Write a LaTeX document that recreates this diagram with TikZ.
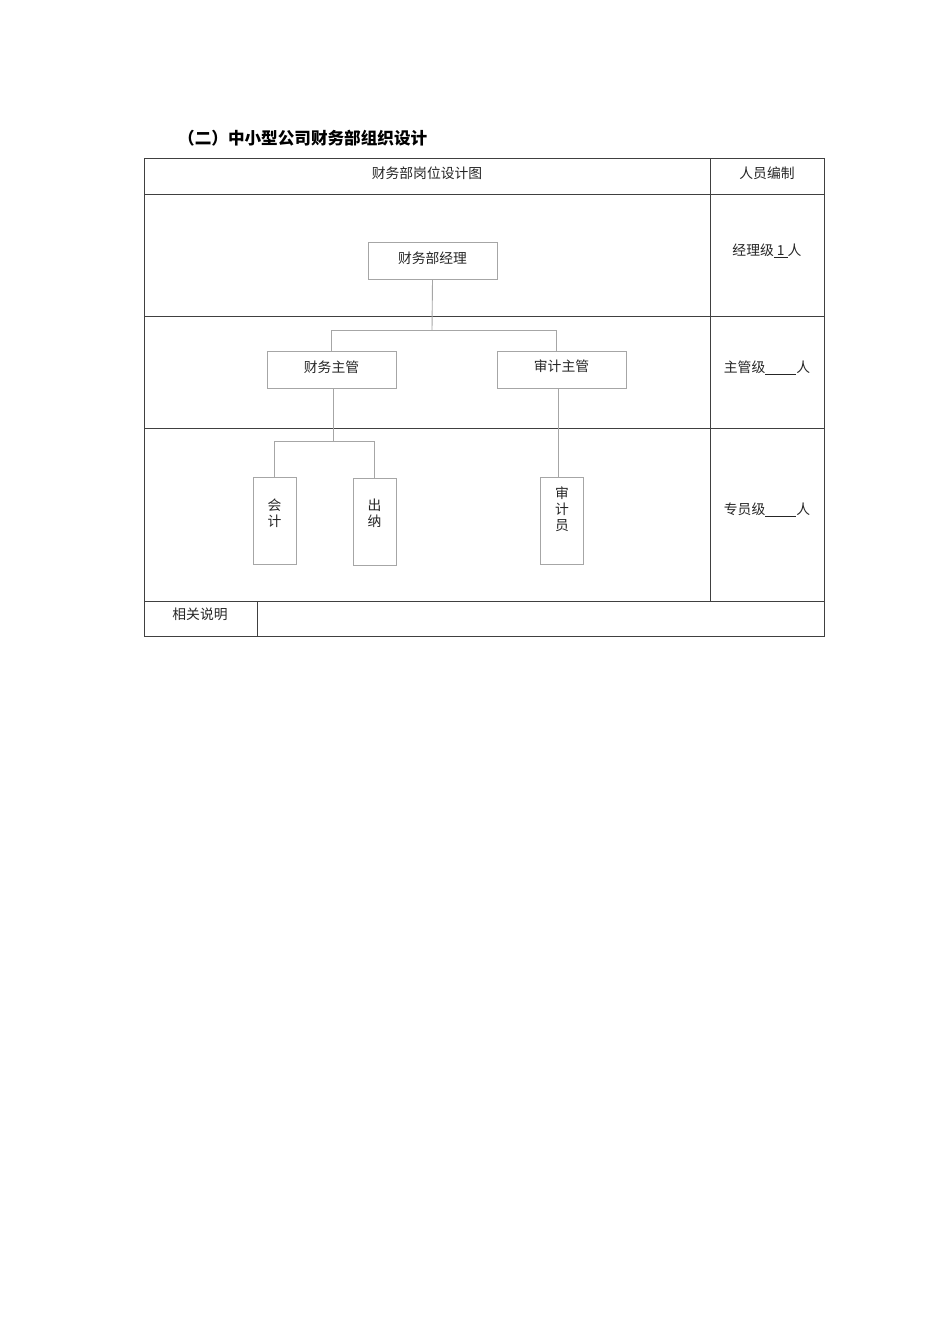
\documentclass[tikz,border=0pt]{standalone}
\usepackage{fontspec}
\setmainfont{Noto Sans CJK SC}
\begin{document}
\begin{tikzpicture}[x=1pt,y=-1pt,
  tbl/.style={draw=black!75,line width=1pt},
  orgbox/.style={draw=black!35,line width=0.9pt,minimum width=129pt,minimum height=37pt,inner sep=0pt},
  vbox/.style={draw=black!35,line width=0.9pt,minimum width=43pt,minimum height=87pt,inner sep=0pt},
  conn/.style={draw=black!35,line width=0.9pt},
  txt/.style={font=\fontsize{13.8}{16}\selectfont,text=black!85,inner sep=0pt,align=center},
  ]
\fill[white] (0,0) rectangle (950,1344);
\useasboundingbox (0,0) rectangle (950,1344);
% title
\node[anchor=west,inner sep=0pt,font=\fontsize{16.6}{19}\selectfont\bfseries] (title) at (178,138) {（二）中小型公司财务部组织设计};
% table
\draw[tbl] (144,158) rectangle (824,636);
\draw[tbl] (144,194) -- (824,194);
\draw[tbl] (144,316) -- (824,316);
\draw[tbl] (144,428) -- (824,428);
\draw[tbl] (144,601) -- (824,601);
\draw[tbl] (710,158) -- (710,601);
\draw[tbl] (257,601) -- (257,636);
% header texts
\node[txt] (h1) at (427,173) {财务部岗位设计图};
\node[txt] (h2) at (767,173) {人员编制};
\node[txt] (r1) at (767,251) {经理级\underline{ 1 }人};
\node[txt] (r2) at (767,368) {主管级\underline{\hspace{31pt}}人};
\node[txt] (r3) at (767,510) {专员级\underline{\hspace{31pt}}人};
\node[txt] (note) at (200,614) {相关说明};
% org chart
\node[orgbox] (mgr) at (432.5,261) {};
\node[txt] at (432.5,258) {财务部经理};
\node[orgbox] (fz) at (331.5,369.5) {};
\node[txt] at (331.5,367) {财务主管};
\node[orgbox] (sz) at (561.5,369.5) {};
\node[txt] at (561.5,366) {审计主管};
\node[vbox] (kj) at (274.5,521) {};
\node[txt] at (274.5,513) {会\\计};
\node[vbox] (cn) at (374.5,521.5) {};
\node[txt] at (374.5,513) {出\\纳};
\node[vbox] (sjy) at (561.5,521) {};
\node[txt] at (562,509) {审\\计\\员};
\coordinate (j1) at (432,330);
\coordinate (j2) at (333,441);
\draw[conn] (mgr.south) -- (j1);
\draw[conn] ([xshift=-0.5pt]fz.north) -- ([xshift=-0.5pt]fz.north |- j1) -- ([xshift=-5pt]sz.north |- j1) -- ([xshift=-5pt]sz.north);
\draw[conn] ([xshift=1.5pt]fz.south) -- ([xshift=1.5pt]fz.south |- j2);
\draw[conn] (kj.north) -- (kj.north |- j2) -- (cn.north |- j2) -- (cn.north);
\draw[conn] ([xshift=-3.5pt]sz.south) -- ([xshift=-3.5pt]sjy.north);
\end{tikzpicture}
\end{document}
